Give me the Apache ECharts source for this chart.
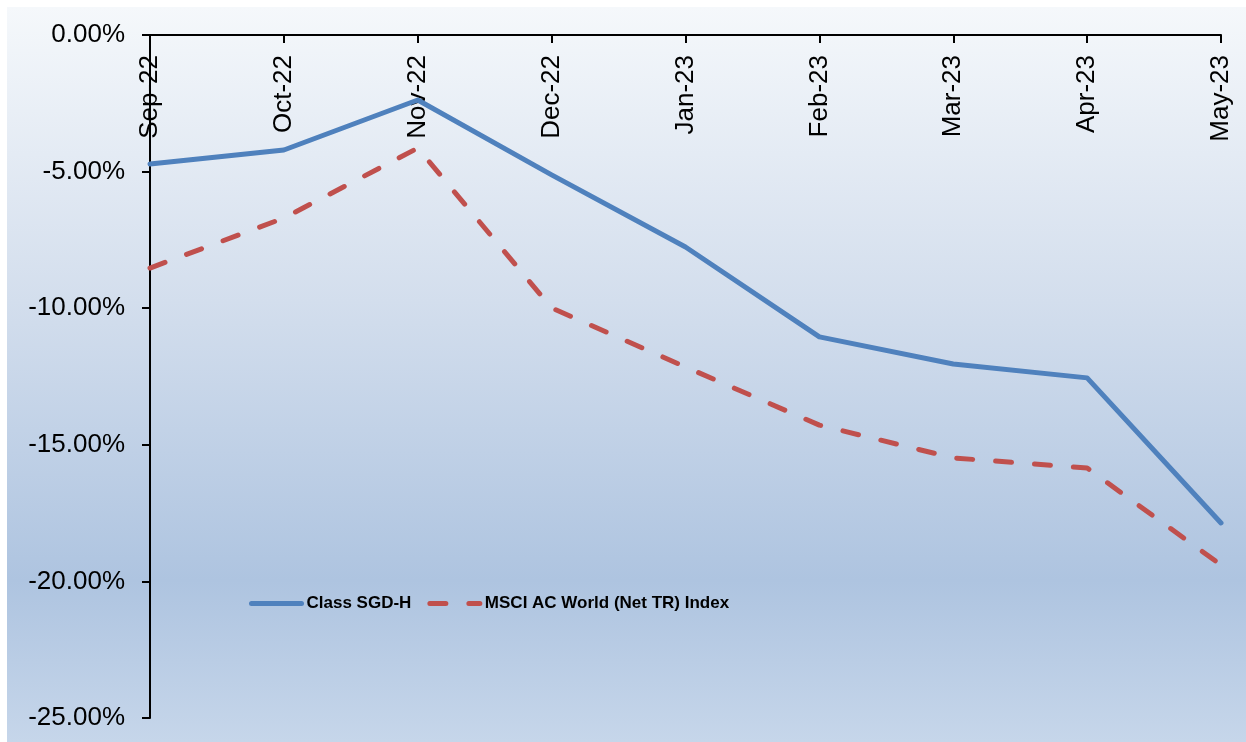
<!DOCTYPE html>
<html lang="en">
<head>
    <meta charset="UTF-8">
    <title>Class SGD-H vs MSCI AC World</title>
    <style>
        *{
            margin:0;
            padding:0;
            box-sizing:border-box;
        }
        html, body{
            height:100%;
            width:100%;
            background:#fff;
        }
        #myChart{
            width:1246px;
            height:742px;
        }
    </style>
</head>
<body>
<div id="myChart"></div>
<script src="https://cdn.jsdelivr.net/npm/echarts@6/dist/echarts.min.js"></script>
<script>
    var months = ['Sep-22', 'Oct-22', 'Nov-22', 'Dec-22', 'Jan-23', 'Feb-23', 'Mar-23', 'Apr-23', 'May-23'];
    var classSgdH = [-4.72, -4.21, -2.38, -5.12, -7.76, -11.05, -12.04, -12.55, -17.86];
    var msciAcwi = [-8.53, -6.70, -4.14, -9.99, -12.15, -14.28, -15.48, -15.85, -19.40];
    var yTicks = [0, -5, -10, -15, -20, -25];

    var myChart = echarts.init(document.getElementById('myChart'));
    var option = {
        animation:false,
        graphic:[
            {
                type:'rect',
                z:-10,
                silent:true,
                shape:{x:7, y:7, width:1239, height:735},
                style:{
                    fill:new echarts.graphic.LinearGradient(0, 0, 0, 1, [
                        {offset:0, color:'#f5f8fb'},
                        {offset:0.4, color:'#d3deed'},
                        {offset:0.78, color:'#aec4e0'},
                        {offset:1, color:'#c6d6ea'}
                    ])
                }
            }
        ],
        legend:{
            left:244,
            top:589,
            itemWidth:50,
            itemHeight:24,
            itemGap:16,
            itemStyle:{opacity:0},
            lineStyle:{width:5, cap:'round'},
            textStyle:{
                fontFamily:'Liberation Sans',
                fontSize:17,
                fontWeight:'bold',
                color:'#000'
            },
            data:['Class SGD-H', 'MSCI AC World (Net TR) Index']
        },
        grid:{
            left:150,
            right:25,
            top:35,
            bottom:24,
            containLabel:false
        },
        xAxis:{
            type:'category',
            position:'top',
            boundaryGap:false,
            data:months,
            axisLine:{lineStyle:{color:'#000', width:2}},
            axisTick:{inside:true, length:8, lineStyle:{color:'#000', width:2}},
            axisLabel:{
                inside:true,
                rotate:90,
                margin:20,
                fontFamily:'Liberation Sans',
                fontSize:26,
                color:'#000'
            },
            splitLine:{show:false}
        },
        yAxis:{
            type:'value',
            min:-25,
            max:0,
            interval:5,
            axisLine:{show:true, lineStyle:{color:'#000', width:2}},
            axisTick:{show:true, length:8, lineStyle:{color:'#000', width:2}},
            axisLabel:{
                margin:25,
                fontFamily:'Liberation Sans',
                fontSize:26,
                color:'#000',
                formatter:function(v) {
                    return yTicks.indexOf(v) >= 0 ? v.toFixed(2) + '%' : '';
                }
            },
            splitLine:{show:false}
        },
        series:[
            {
                name:'Class SGD-H',
                type:'line',
                data:classSgdH,
                symbol:'none',
                lineStyle:{color:'#4f81bd', width:5, cap:'round', join:'round'},
                itemStyle:{color:'#4f81bd'}
            },
            {
                name:'MSCI AC World (Net TR) Index',
                type:'line',
                data:msciAcwi,
                symbol:'none',
                lineStyle:{color:'#c0504d', width:5, type:[16, 23], cap:'round', join:'round'},
                itemStyle:{color:'#c0504d'}
            }
        ]
    };
    myChart.setOption(option);
</script>
</body>
</html>
